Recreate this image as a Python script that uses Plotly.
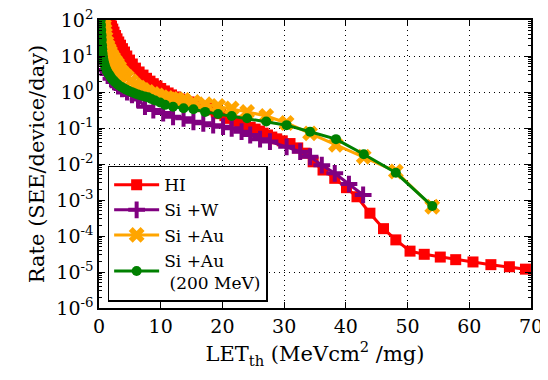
import plotly.graph_objects as go

# ---------------- data ----------------
hi_let = [1.2, 1.4, 1.62, 1.82, 2.03, 2.23, 2.43, 2.68, 2.92, 3.2, 3.48, 3.8, 4.13, 4.5, 4.94,
          5.4, 5.91, 6.5, 7.13, 7.7, 8.26, 8.8, 9.4, 10.0, 10.6, 11.2, 11.75, 12.4, 13.1, 13.8,
          14.6, 15.3, 16.0, 16.8, 17.5, 18.2, 19.0, 19.7, 20.4, 21.2, 22.0, 22.8, 23.7, 24.5,
          25.3, 26.0, 26.6, 27.3, 28.0, 28.8, 29.7, 30.95, 32.2, 33.4, 34.7, 36.3, 38.2, 40.1,
          41.8, 43.9, 46.1, 48.1, 50.4, 52.7, 55.3, 57.8, 60.6, 63.5, 66.5, 69.1]
hi_rate = [215, 150, 100, 82, 68, 56, 46, 37, 30, 24.5, 20, 16, 12.9, 10, 7.7,
           6.0, 4.6, 3.6, 2.95, 2.4, 2.0, 1.7, 1.47, 1.25, 1.07, 0.94, 0.83, 0.73, 0.64, 0.58,
           0.53, 0.47, 0.42, 0.39, 0.36, 0.32, 0.28, 0.25, 0.22, 0.185, 0.156, 0.137, 0.12, 0.105,
           0.093, 0.082, 0.072, 0.064, 0.056, 0.05, 0.044, 0.037, 0.028, 0.020, 0.0115, 0.0068,
           0.0040, 0.0022, 0.00123, 4.3e-4, 1.6e-4, 7.8e-5, 3.8e-5, 3.1e-5, 2.6e-5, 2.2e-5,
           1.9e-5, 1.6e-5, 1.4e-5, 1.2e-5]

siw_let = [0.24, 0.32, 0.41, 0.49, 0.65, 0.81, 1.13, 1.46, 1.94, 2.43, 3.08, 3.73, 4.54,
           5.35, 6.32, 7.45, 8.80, 10.4, 12.0, 13.7, 15.3, 16.9, 18.5, 20.1, 21.5, 23.1, 24.5,
           26.1, 27.7, 30.4, 32.6, 34.2, 36.1, 38.2, 40.5, 42.8]
siw_rate = [120, 66, 34, 18, 8.8, 6.2, 4.1, 3.15, 2.35, 1.9, 1.45, 1.22, 1.0,
            0.83, 0.62, 0.39, 0.316, 0.26, 0.205, 0.186, 0.149, 0.135, 0.12, 0.109, 0.098, 0.079,
            0.064, 0.049, 0.042, 0.030, 0.022, 0.0159, 0.0093, 0.0055, 0.00277, 0.00138]

siau_let = [0.6, 0.73, 0.81, 0.89, 0.97, 1.05, 1.2, 1.38, 1.58, 1.78, 2.0, 2.27, 2.6, 2.92,
            3.25, 3.57, 4.05, 4.54, 5.2, 5.83, 6.5, 7.13, 7.9, 8.75, 9.5, 10.2, 11.0, 11.8,
            12.7, 13.7, 15.3, 17.2, 19.3, 21.5, 24.0, 27.1, 30.4, 34.2, 38.4, 42.9, 48.1, 54.0]
siau_rate = [150, 100, 70, 53, 41, 32, 24, 19, 15.5, 12.9, 10.6, 8.8, 7.2, 6.0,
             4.8, 3.8, 3.1, 2.6, 2.0, 1.55, 1.32, 1.14, 1.0, 0.88, 0.8, 0.72, 0.68, 0.64,
             0.62, 0.60, 0.53, 0.46, 0.41, 0.35, 0.28, 0.215, 0.138, 0.071, 0.034, 0.0159,
             0.0062, 6.5e-4]

siau200_let = [0.24, 0.28, 0.32, 0.36, 0.41, 0.45, 0.49, 0.53, 0.57, 0.65, 0.73, 0.85, 0.97,
               1.13, 1.30, 1.5, 1.70, 1.9, 2.11, 2.35, 2.59, 2.9, 3.24, 3.65, 4.05, 4.45, 4.86,
               5.35, 5.83, 6.3, 6.81, 7.4, 7.94, 8.5, 9.08, 9.9, 10.7, 12.0, 13.7, 15.3, 17.2,
               19.3, 21.5, 24.0, 27.1, 30.4, 34.2, 38.4, 42.9, 48.1, 54.0]
siau200_rate = [138, 100, 73, 53, 38, 28, 20, 15.5, 12, 9.5, 7.7, 6.3, 5.3,
                4.4, 3.8, 3.3, 2.95, 2.6, 2.3, 2.1, 1.9, 1.7, 1.52, 1.38, 1.26, 1.16, 1.07,
                0.99, 0.91, 0.85, 0.80, 0.75, 0.71, 0.64, 0.58, 0.51, 0.44, 0.39, 0.355, 0.33,
                0.28, 0.245, 0.215, 0.186, 0.151, 0.12, 0.079, 0.049, 0.0186, 0.0057, 6.8e-4]

series_names = ["HI", "Si +W", "Si +Au", "Si +Au<br> (200 MeV)"]
x_ticks = [0, 10, 20, 30, 40, 50, 60, 70]
y_exps = [2, 1, 0, -1, -2, -3, -4, -5, -6]

# ---------------- figure ----------------
FONT = "DejaVu Serif"
fig = go.Figure()

styles = [
    (hi_let, hi_rate, "#ff0000", "square", 11, 3),
    (siw_let, siw_rate, "#800080", "cross-thin", 12, 3),
    (siau_let, siau_rate, "#ffa500", "x", 14, 3),
    (siau200_let, siau200_rate, "#008000", "circle", 10, 3),
]
for i, (xs, ys, col, sym, msz, lw) in enumerate(styles):
    marker = dict(symbol=sym, size=msz, color=col, line=dict(width=0, color=col))
    if sym == "cross-thin":
        marker = dict(symbol=sym, size=msz, color=col, line=dict(width=4, color=col))
    fig.add_trace(go.Scatter(
        x=xs, y=ys, mode="lines+markers", name=series_names[i],
        legendgroup=f"g{i}",
        line=dict(color=col, width=lw), marker=marker,
    ))

minor_vals = [m * 10 ** e for e in range(-6, 2) for m in range(2, 10)]

fig.update_layout(
    width=540, height=372,
    margin=dict(l=91, r=17, t=12, b=72),
    paper_bgcolor="white", plot_bgcolor="white",
    font=dict(family=FONT, color="black", size=19),
    showlegend=True,
    legend=dict(
        x=0.02, y=0.022, xanchor="left", yanchor="bottom",
        bordercolor="black", borderwidth=1.5, bgcolor="white",
        font=dict(family=FONT, size=17, color="black"),
        tracegroupgap=0, itemwidth=45,
    ),
)

fig.update_xaxes(
    range=[0, 70], tickmode="array", tickvals=x_ticks, automargin=False,
    ticks="inside", ticklen=6, tickwidth=1, tickcolor="black",
    showline=True, linecolor="black", linewidth=1.5, mirror="ticks",
    showgrid=True, gridcolor="black", gridwidth=1, griddash="1px,4px",
    zeroline=False, ticklabeloverflow="allow",
    tickfont=dict(family=FONT, size=19),
    title=dict(text="LET<sub>th</sub> (MeVcm<sup>2</sup> /mg)", font=dict(family=FONT, size=21), standoff=11),
)
fig.update_yaxes(
    type="log", range=[-6, 2], tickmode="array", automargin=False,
    tickvals=[10 ** e for e in y_exps],
    ticktext=[f"10<sup>{e}</sup>" for e in y_exps],
    ticks="inside", ticklen=6, tickwidth=1, tickcolor="black",
    minor=dict(tickmode="array", tickvals=minor_vals, ticks="inside", ticklen=3,
               tickwidth=1, tickcolor="black", showgrid=False),
    showline=True, linecolor="black", linewidth=1.5, mirror="ticks",
    showgrid=True, gridcolor="black", gridwidth=1, griddash="1px,4px",
    zeroline=False, ticklabeloverflow="allow",
    tickfont=dict(family=FONT, size=19),
    title=dict(text="Rate (SEE/device/day)", font=dict(family=FONT, size=21), standoff=6),
)

fig.write_html("out.html")
